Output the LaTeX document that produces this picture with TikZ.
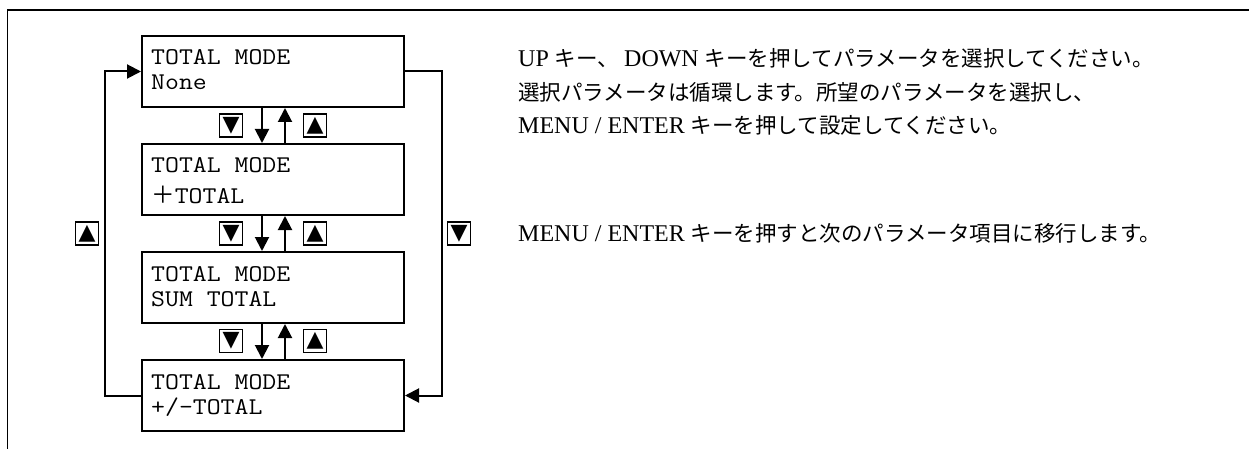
\documentclass[tikz,border=0pt]{standalone}
\usepackage{fontspec}
\setmainfont{Liberation Serif}
\newfontfamily\cjkfont{Noto Sans CJK JP}
\newfontfamily\monofont{Latin Modern Mono}[FakeStretch=1.125]
\newfontfamily\symfont{DejaVu Sans}
\usetikzlibrary{arrows.meta}
\newcommand\myjp{\cjkfont\fontsize{21.5}{25}\selectfont}
\newcommand\mylat{\rmfamily\fontsize{24}{25}\selectfont}
\tikzset{
  x=1pt, y=-1pt,
  lcd/.style={draw, line width=2pt, minimum width=262pt, minimum height=71pt, inner sep=0pt},
  lcdtext/.style={anchor=base west, inner sep=0pt, font=\monofont\fontsize{24}{25}\selectfont},
  keybox/.style={draw, line width=1.7pt, minimum size=23pt, inner sep=0pt, font=\symfont\fontsize{22}{22}\selectfont},
  arr/.style={line width=2pt, -{Triangle[length=14pt,width=14pt]}},
  frame/.style={line width=1.8pt},
  note/.style={anchor=base west, inner sep=0pt},
}
\begin{document}
\begin{tikzpicture}
\useasboundingbox (0,0) rectangle (1249,449);
% frame
\draw[frame] (1249,10) -- (7.5,10) -- (7.5,449);
% LCD boxes
\node[lcd] (b1) at (273,71.5) {};
\node[lcd] (b2) at (273,179.5) {};
\node[lcd] (b3) at (273,287.5) {};
\node[lcd] (b4) at (273,395.5) {};
% texts
\node[lcdtext] (b1a) at (151,65) {TOTAL MODE};
\node[lcdtext] (b1b) at (151,90) {None};
\node[lcdtext] (b2a) at (151,173) {TOTAL MODE};
\node[lcdtext] (b2b) at (151,203) {{\cjkfont\fontsize{23.6}{25}\selectfont ＋}TOTAL};
\node[lcdtext] (b3a) at (151,281) {TOTAL MODE};
\node[lcdtext] (b3b) at (151,306) {SUM TOTAL};
\node[lcdtext] (b4a) at (151,389) {TOTAL MODE};
\node[lcdtext] (b4b) at (151,414) {+/-TOTAL};
% vertical arrows
\draw[arr] ([xshift=-11pt]b1.south) -- ([xshift=-11pt]b2.north);
\draw[arr] ([xshift=12pt]b2.north) -- ([xshift=12pt]b1.south);
\draw[arr] ([xshift=-11pt]b2.south) -- ([xshift=-11pt]b3.north);
\draw[arr] ([xshift=12pt]b3.north) -- ([xshift=12pt]b2.south);
\draw[arr] ([xshift=-11pt]b3.south) -- ([xshift=-11pt]b4.north);
\draw[arr] ([xshift=12pt]b4.north) -- ([xshift=12pt]b3.south);
% keys
\node[keybox] (k1d) at (231,125.5) {▼};
\node[keybox] (k1u) at (315,125.5) {▲};
\node[keybox] (k2d) at (231,233.5) {▼};
\node[keybox] (k2u) at (315,233.5) {▲};
\node[keybox] (k3d) at (231,341) {▼};
\node[keybox] (k3u) at (315,341) {▲};
\node[keybox] (kl) at (87,233.5) {▲};
\node[keybox] (kr) at (459,233.5) {▼};
% loops
\coordinate (lx) at (105,0);
\coordinate (rx) at (442,0);
\draw[arr] (b4.west) -- (b4.west -| lx) -- (b1.west -| lx) -- (b1.west);
\draw[arr] (b1.east) -- (b1.east -| rx) -- (b4.east -| rx) -- (b4.east);
% notes
\node[note] (t1) at (518,67) {{\mylat UP }{\myjp キー、}\hspace{5pt}{\mylat DOWN }{\myjp キーを押してパラメータを選択してください。}};
\node[note] (t2) at (518,101) {{\myjp 選択パラメータは循環します。所望のパラメータを選択し、}};
\node[note] (t3) at (518,134) {{\mylat MENU / ENTER }{\myjp キーを押して設定してください。}};
\node[note] (t4) at (518,241) {{\mylat MENU / ENTER }{\myjp キーを押すと次のパラメータ項目に移行します。}};
\end{tikzpicture}
\end{document}
